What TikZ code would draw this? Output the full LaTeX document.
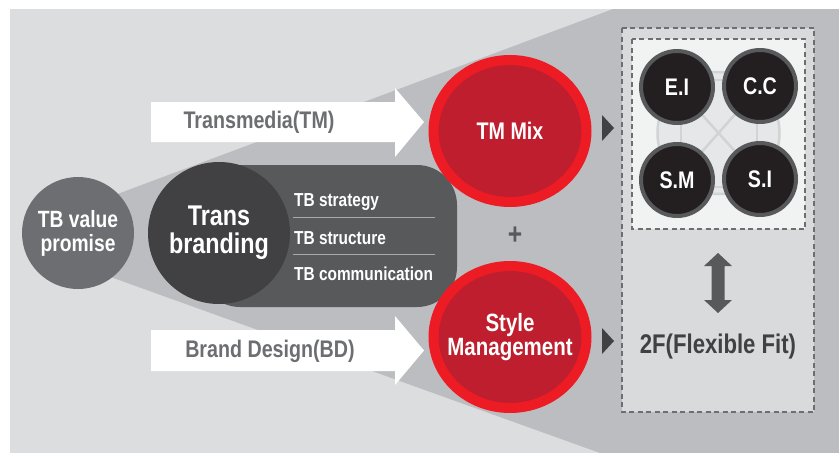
\documentclass[tikz,border=0pt]{standalone}
\usepackage{fontspec}
\setmainfont{Liberation Sans}[FakeStretch=0.82]
\usetikzlibrary{shapes.geometric}
\definecolor{bglight}{HTML}{DCDDDE}
\definecolor{bgdark}{HTML}{BCBDC0}
\definecolor{tbgray}{HTML}{6D6E71}
\definecolor{transgray}{HTML}{414042}
\definecolor{rectgray}{HTML}{58595B}
\definecolor{redout}{HTML}{ED1C24}
\definecolor{redin}{HTML}{BE1E2D}
\definecolor{boxgray}{HTML}{D9DADB}
\definecolor{boxlight}{HTML}{F1F2F2}
\definecolor{connline}{HTML}{D1D3D4}
\definecolor{connfill}{HTML}{E6E7E8}
\definecolor{blackc}{HTML}{231F20}
\definecolor{sepcol}{HTML}{A7A9AC}
\begin{document}
\begin{tikzpicture}[x=1pt,y=-1pt,
  arrowtxt/.style={text=tbgray, font=\bfseries\fontsize{24}{26}\selectfont, inner sep=0},
  listtxt/.style={text=white, anchor=west, font=\bfseries\fontsize{18.8}{20}\selectfont, inner sep=0},
  redball/.style={ellipse, draw=redout, line width=10pt, fill=redin, minimum width=153, minimum height=142, inner sep=0},
  redtxt/.style={text=white, align=center, inner sep=0},
  smallball/.style={circle, draw=rectgray, line width=4pt, fill=blackc, minimum size=72, inner sep=0, text=white, font=\bfseries\fontsize{24}{26}\selectfont},
  dashbox/.style={draw=tbgray, line width=2pt, dash pattern=on 5pt off 3.5pt},
  sepline/.style={draw=sepcol, line width=1pt},
  connl/.style={draw=connline, line width=2.5pt},
  marker/.style={fill=transgray}
]
\useasboundingbox (0,0) rectangle (839,453);
\fill[white] (0,0) rectangle (839,453);
\fill[bglight] (10,9) rectangle (839,453);
\fill[bgdark] (80,208) -- (613,9) -- (839,9) -- (839,453) -- (600,453) -- (80,266) -- cycle;

% white block arrows
\fill[white] (151,102) -- (395,102) -- (395,88) -- (424,122) -- (395,157) -- (395,142) -- (151,142) -- cycle;
\fill[white] (151,330) -- (395,330) -- (395,316) -- (424,350.5) -- (395,385) -- (395,371) -- (151,371) -- cycle;
\node[arrowtxt] (tm) at (259,122) {Transmedia(TM)};
\node[arrowtxt] (bd) at (270,351) {Brand Design(BD)};

% TB value promise
\node[circle, fill=tbgray, minimum size=112, inner sep=0, text=white, align=center,
  font=\bfseries\fontsize{23.5}{24}\selectfont] (tbv) at (78,233) {TB value\\promise};

% Trans branding block
\fill[rectgray, rounded corners=40pt] (200,165) rectangle (457,307);
\node[circle, fill=transgray, minimum size=142, inner sep=0, text=white, align=center,
  font=\bfseries\fontsize{28.5}{28}\selectfont] (tb) at (219,233) {Trans\\branding};
\node[listtxt] (s1) at (294,202) {TB strategy};
\node[listtxt] (s2) at (294,238) {TB structure};
\node[listtxt] (s3) at (294,274) {TB communication};
\draw[sepline] (293,217) -- (435,217);
\draw[sepline] (293,254) -- (435,254);

% red balls
\node[redball] (mix) at (510,131) {};
\node[redtxt, font=\bfseries\fontsize{24}{24}\selectfont] (mixt) at (mix.center) {TM Mix};
\node[redball] (style) at (510,337) {};
\node[redtxt, font=\bfseries\fontsize{25}{22}\selectfont] (stylet) at (style.center) {Style\\Management};
\node[text=rectgray, font=\bfseries\fontsize{30}{30}\selectfont, inner sep=0] (plus) at (515,236) {+};

% markers
\fill[marker] (602,115) -- (614,128) -- (602,141) -- cycle;
\fill[marker] (602,328) -- (614,341) -- (602,354) -- cycle;

% right boxes
\draw[dashbox, fill=boxgray] (622,28) rectangle (814,412);
\draw[dashbox, fill=boxlight] (632,39) rectangle (805,229);

% connection web
\draw[connl, fill=connfill] (718.5,133) circle (61);
\draw[connl] (681,80) rectangle (757,187);
\draw[connl] (677,87) -- (760,179);
\draw[connl] (760,86) -- (677,180);

\node[smallball] (ei) at (677,87) {E.I};
\node[smallball] (cc) at (760,86) {C.C};
\node[smallball] (sm) at (677,180) {S.M};
\node[smallball] (si) at (760,179) {S.I};

% double arrow
\fill[rectgray] (718,253) -- (732,266) -- (724.5,266) -- (724.5,300) -- (732,300) -- (718,313)
  -- (704,300) -- (711.5,300) -- (711.5,266) -- (704,266) -- cycle;
\node[text=transgray, font=\bfseries\fontsize{27}{27}\selectfont, inner sep=0] (ff) at (718,347) {2F(Flexible Fit)};
\end{tikzpicture}
\end{document}
